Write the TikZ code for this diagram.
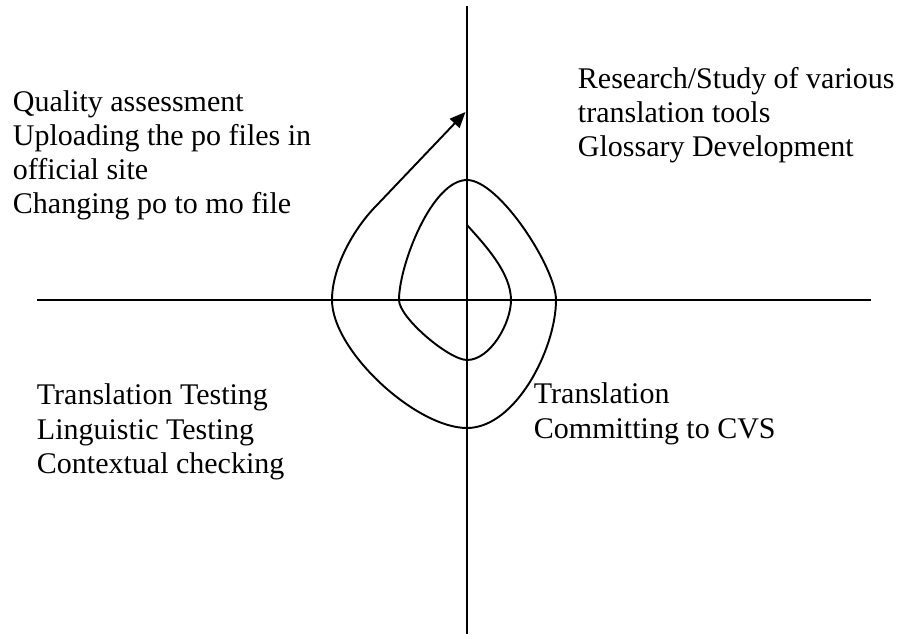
\documentclass[tikz,border=0pt]{standalone}
\usepackage{fontspec}
\setmainfont{Liberation Serif}
\usetikzlibrary{arrows.meta}
\tikzset{phase/.style={anchor=base west,align=left,inner sep=0pt,font=\fontsize{17.07}{19.35}\selectfont}}
\begin{document}
\begin{tikzpicture}[line width=1.1pt]
\useasboundingbox (-9.34,6) rectangle (8.62,-6.76);
\coordinate (o) at (0,0);
\coordinate (w) at (-8.6,0);
\coordinate (e) at (8.08,0);
\coordinate (n) at (0,5.88);
\coordinate (s) at (0,-6.68);
\draw (w) -- (e);
\draw (n) -- (s);
\draw[-{Triangle[length=9pt,width=7.5pt]}] (0,1.5) to[out=-48,in=90,looseness=0.8] (0.88,0)
	to[out=-90,in=0,looseness=0.8] (0,-1.2) to[out=180,in=-90,looseness=0.5] (-1.36,0)
	to[out=90,in=180,looseness=0.65] (0,2.4) to[out=0,in=90,looseness=0.55] (1.78,0)
	to[out=-90,in=0,looseness=0.8] (0,-2.56) to[out=180,in=-90,looseness=0.7] (-2.7,0)
	to[out=90,in=225,looseness=0.8] (-1.8,1.9) -- (-0.03,3.76);
\node[phase] (quality) at (-9.1,1.72) {Quality assessment\\Uploading the po files in\\official site\\Changing po to mo file};
\node[phase] (research) at (2.2,2.86) {Research/Study of various\\translation tools\\Glossary Development};
\node[phase] (testing) at (-8.62,-3.46) {Translation Testing\\Linguistic Testing\\Contextual checking};
\node[phase] (translation) at (1.32,-2.76) {Translation\\Committing to CVS};
\end{tikzpicture}
\end{document}
